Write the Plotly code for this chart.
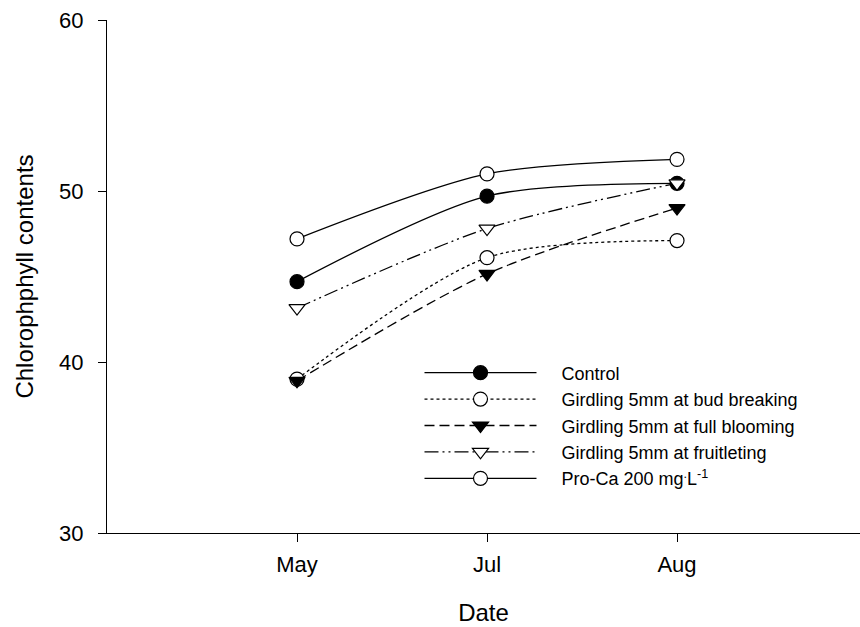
import plotly.graph_objects as go

dates = ["May", "Jul", "Aug"]
control = [44.7, 49.7, 50.45]
bud_breaking = [39.0, 46.1, 47.1]
full_blooming = [38.9, 45.15, 49.0]
fruitleting = [43.15, 47.8, 50.45]
pro_ca = [47.2, 51.0, 51.85]

series = [
    ("Control", control, "solid", "circle", "black"),
    ("Girdling 5mm at bud breaking", bud_breaking, "dot", "circle", "white"),
    ("Girdling 5mm at full blooming", full_blooming, "10px,5px", "triangle-down", "black"),
    ("Girdling 5mm at fruitleting", fruitleting, "14px,4px,2px,4px,2px,4px", "triangle-down", "white"),
    ("Pro-Ca 200 mg<sup>.</sup>L<sup>-1</sup>", pro_ca, "solid", "circle", "white"),
]

pad = "\u00a0" * 4  # extra room between legend sample and label

fig = go.Figure()
for name, vals, dash, sym, fill in series:
    fig.add_trace(go.Scatter(
        x=list(range(len(dates))), y=vals, name=pad + name, mode="lines+markers",
        line=dict(color="black", width=1.3, dash=dash, shape="spline", smoothing=0.8),
        marker=dict(symbol=sym, size=14, color=fill, line=dict(color="black", width=1.2)),
    ))

font = "Liberation Sans, Arial, sans-serif"
fig.update_layout(
    width=860, height=627,
    margin=dict(l=107, r=0, t=20, b=94),
    paper_bgcolor="white", plot_bgcolor="white",
    font=dict(family=font, color="black"),
    showlegend=True,
    legend=dict(x=0.415, y=0.348, xanchor="left", yanchor="top",
                font=dict(size=18, family=font), itemwidth=112,
                tracegroupgap=0, bgcolor="rgba(0,0,0,0)"),
    xaxis=dict(range=[-1, 2.963], tickmode="array", tickvals=list(range(len(dates))),
               ticktext=dates, showline=True, linecolor="black", linewidth=1.2,
               ticks="outside", ticklen=8, tickcolor="black", showgrid=False,
               zeroline=False, tickfont=dict(size=22), ticklabelstandoff=3,
               title=dict(text="Date", font=dict(size=24), standoff=28)),
    yaxis=dict(range=[30, 60], tickvals=[30, 40, 50, 60], showline=True,
               linecolor="black", linewidth=1.2, ticks="outside", ticklen=8,
               tickcolor="black", showgrid=False, zeroline=False,
               tickfont=dict(size=22), ticklabelstandoff=10,
               title=dict(text="Chlorophphyll contents", font=dict(size=24), standoff=18)),
)

fig.write_html("out.html")
